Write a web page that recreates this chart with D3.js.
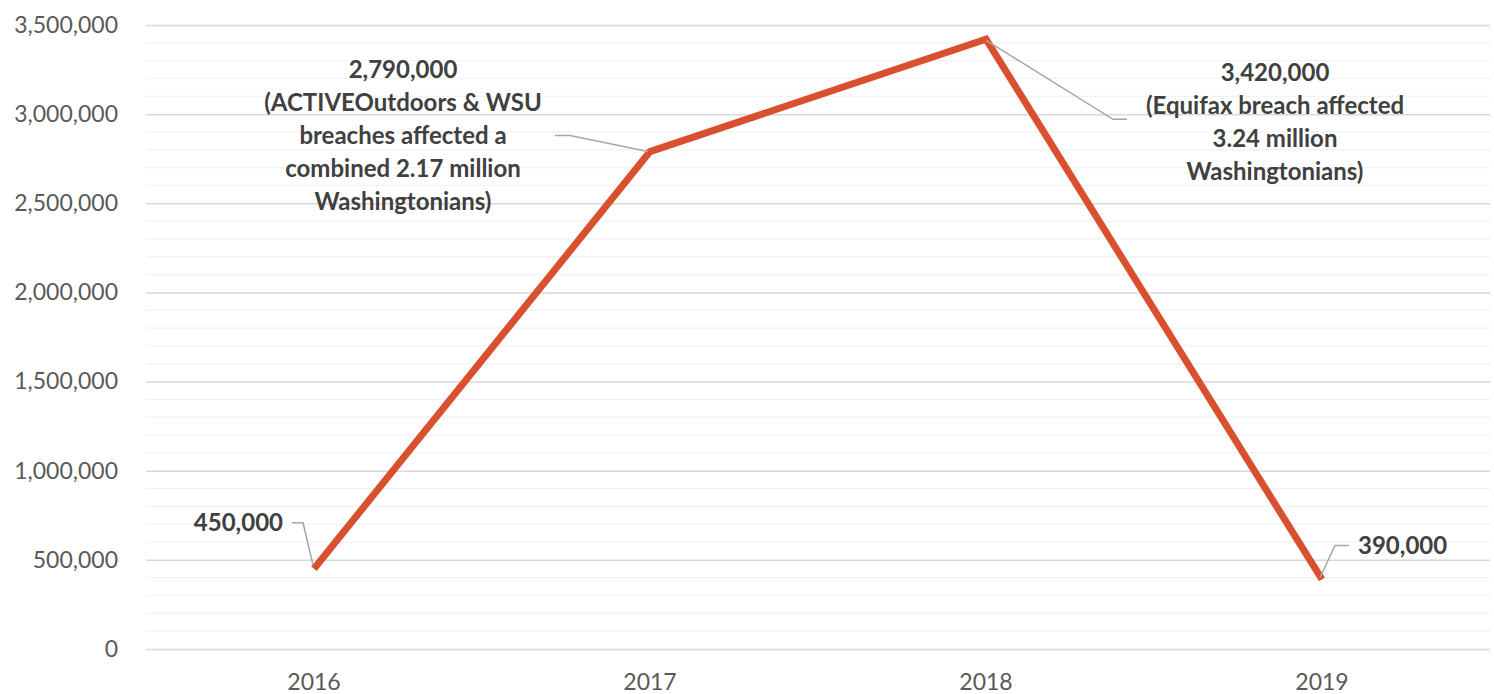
<!DOCTYPE html>
<html>
<head>
<meta charset="utf-8">
<script src="https://cdn.jsdelivr.net/npm/d3@7"></script>
<style>
  html, body { margin: 0; padding: 0; background: #fff; }
  svg { display: block; }
</style>
</head>
<body>
<svg id="chart" width="1494" height="694"></svg>
<script>
// Washingtonians affected by data breaches, by year
const years = ["2016", "2017", "2018", "2019"];
const affected = [450000, 2790000, 3420000, 390000];
const yTicks = [0, 500000, 1000000, 1500000, 2000000, 2500000, 3000000, 3500000];
const labelLines = [
  ["450,000"],
  ["2,790,000", "(ACTIVEOutdoors & WSU", "breaches affected a", "combined 2.17 million", "Washingtonians)"],
  ["3,420,000", "(Equifax breach affected", "3.24 million", "Washingtonians)"],
  ["390,000"]
];

const svg = d3.select("#chart");
const margin = { left: 146, right: 4, top: 25, bottom: 45 };
const W = 1494, H = 694;

const x = d3.scaleBand().domain(years).range([margin.left, W - margin.right]);
const y = d3.scaleLinear().domain([0, 3500000]).range([H - margin.bottom, margin.top]);

const font = "Lato, 'Open Sans', sans-serif";

// minor gridlines every 100,000
const minor = d3.range(0, 3500001, 100000).filter(v => v % 500000 !== 0);
svg.append("g").selectAll("line").data(minor).join("line")
  .attr("x1", margin.left).attr("x2", W - margin.right)
  .attr("y1", d => y(d)).attr("y2", d => y(d))
  .attr("stroke", "#f2f2f2").attr("stroke-width", 1.3);

// major gridlines + y axis labels
const yAxis = d3.axisLeft(y).tickValues(yTicks).tickFormat(d3.format(","))
  .tickSize(-(W - margin.right - margin.left)).tickPadding(28);
const gy = svg.append("g").attr("transform", `translate(${margin.left},0)`).call(yAxis);
gy.select(".domain").remove();
gy.selectAll(".tick line").attr("stroke", "#d9d9d9").attr("stroke-width", 1.5);
gy.selectAll(".tick text").attr("fill", "#595959").style("font-family", font).style("font-size", "23px");

// x axis labels
const xAxis = d3.axisBottom(x).tickSize(0).tickPadding(25);
const gx = svg.append("g").attr("transform", `translate(0,${y(0)})`).call(xAxis);
gx.select(".domain").remove();
gx.selectAll(".tick text").attr("fill", "#595959").style("font-family", font).style("font-size", "23px");

const cx = i => x(years[i]) + x.bandwidth() / 2;
const cy = i => y(affected[i]);

// data line
const line = d3.line().x((d, i) => cx(i)).y(d => y(d));
svg.append("path").datum(affected)
  .attr("d", line)
  .attr("fill", "none")
  .attr("stroke", "#d9502f")
  .attr("stroke-width", 7)
  .attr("stroke-linejoin", "miter");

// label placement relative to each point
const labelSpec = [
  { dx: -31, dy: -46, anchor: "end", leader: [[-1, -4], [-11, -46], [-22, -46]] },
  { dx: -247, dy: -16, anchor: "middle", leader: [[-2, 0], [-80, -16], [-95, -16]] },
  { dx: 289, dy: 83, anchor: "middle", leader: [[0, 1], [127, 80], [141, 80]] },
  { dx: 36, dy: -34, anchor: "start", leader: [[-2, -2], [13, -34], [27, -34]] }
];

const lineH = 33;
labelSpec.forEach((s, i) => {
  const px = cx(i), py = cy(i);
  svg.append("path")
    .attr("d", d3.line()(s.leader.map(p => [px + p[0], py + p[1]])))
    .attr("fill", "none").attr("stroke", "#a6a6a6").attr("stroke-width", 1.5);
  const lines = labelLines[i];
  const n = lines.length;
  const t = svg.append("text")
    .attr("text-anchor", s.anchor)
    .attr("fill", "#404040")
    .style("font-family", font).style("font-size", "24px").style("font-weight", "bold");
  lines.forEach((ln, k) => {
    t.append("tspan")
      .attr("x", px + s.dx)
      .attr("y", py + s.dy + (k - (n - 1) / 2) * lineH)
      .attr("dy", "0.35em")
      .text(ln);
  });
});
</script>
</body>
</html>
